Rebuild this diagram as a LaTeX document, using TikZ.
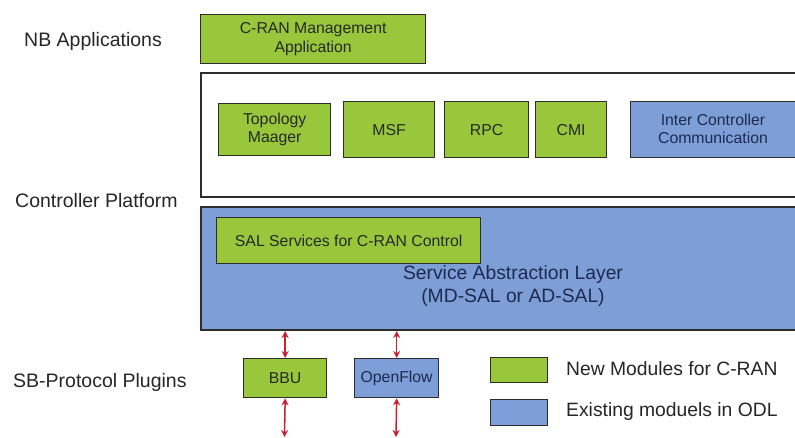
\documentclass[tikz,border=0pt]{standalone}
\usepackage{fontspec}
\setmainfont{Liberation Sans}
\usetikzlibrary{arrows.meta}
\definecolor{newgreen}{RGB}{152,199,60}
\definecolor{odlblue}{RGB}{125,158,214}
\definecolor{edge}{RGB}{45,45,45}
\definecolor{navytext}{RGB}{30,42,80}
\definecolor{greentext}{RGB}{40,40,40}
\definecolor{arrowred}{RGB}{205,30,45}
\tikzset{
  modbox/.style={draw=edge, line width=1.3pt, anchor=north west, inner sep=0pt, align=center,
    font=\fontsize{15.8}{18.5}\selectfont},
  greenbox/.style={modbox, fill=newgreen, text=greentext},
  bluebox/.style={modbox, fill=odlblue, text=navytext},
  layerbox/.style={draw=edge, line width=2pt, anchor=north west, inner sep=0pt},
  sidelabel/.style={anchor=west, inner sep=0pt, text=black!85, font=\fontsize{19.5}{23}\selectfont},
  legendtext/.style={anchor=west, inner sep=0pt, text=black!85, font=\fontsize{19.3}{23}\selectfont},
  link/.style={draw=arrowred, line width=1.5pt, {Stealth[length=7pt,width=7pt]}-{Stealth[length=7pt,width=7pt]}}
}
\begin{document}
\begin{tikzpicture}[x=1pt,y=-1pt]
\useasboundingbox (0,0) rectangle (795,438);
\fill[white] (0,0) rectangle (795,438);

% side labels
\node[sidelabel] (nbl) at (24,41) {NB Applications};
\node[sidelabel] (cpl) at (15,201) {Controller Platform};
\node[sidelabel] (sbl) at (13,382) {SB-Protocol Plugins};

% NB application
\node[greenbox, minimum width=225pt, minimum height=49pt] (mgmt) at (200,14) {C-RAN Management\\Application};

% controller platform (white)
\node[layerbox, fill=white, minimum width=600pt, minimum height=124pt] (ctrl) at (200,72) {};
\node[greenbox, minimum width=112pt, minimum height=52pt] (topo) at (218,103) {Topology\\Maager};
\node[greenbox, minimum width=91pt, minimum height=56pt] (msf) at (343,101) {MSF};
\node[greenbox, minimum width=84pt, minimum height=56pt] (rpc) at (444,101) {RPC};
\node[greenbox, minimum width=71pt, minimum height=56pt] (cmi) at (535,101) {CMI};
\node[bluebox, minimum width=170pt, minimum height=56pt] (icc) at (630,101) {};
\node[align=center, text=navytext, font=\fontsize{15.8}{18.5}\selectfont] (icct) at (713,129) {Inter Controller\\Communication};

% service abstraction layer
\node[layerbox, fill=odlblue, minimum width=600pt, minimum height=123pt] (sal) at (200,206) {};
\node[greenbox, minimum width=264pt, minimum height=46pt] (salsvc) at (216,217) {SAL Services for C-RAN Control};
\node[align=center, text=navytext, font=\fontsize{19.3}{23.5}\selectfont] (saltext) at (513,286) {Service Abstraction Layer\\(MD-SAL or AD-SAL)};

% plugins
\node[greenbox, minimum width=83pt, minimum height=39pt] (bbu) at (243,358) {BBU};
\node[bluebox, minimum width=84pt, minimum height=39pt] (of) at (354,358) {OpenFlow};

\coordinate (bbuend) at (284.5,437);
\coordinate (ofend) at (396,437);
\draw[link] (sal.south -| bbu.north) -- (bbu.north);
\draw[link] (sal.south -| of.north) -- (of.north);
\draw[link] (bbu.south) -- (bbuend);
\draw[link] (of.south) -- (ofend);

% legend
\node[greenbox, minimum width=57pt, minimum height=25pt] (lg) at (490,357) {};
\node[bluebox, minimum width=57pt, minimum height=26pt] (lb) at (490,399) {};
\node[legendtext] (lgt) at (566,369) {New Modules for C-RAN};
\node[legendtext] (lbt) at (566,412) {Existing moduels in ODL};
\end{tikzpicture}
\end{document}
